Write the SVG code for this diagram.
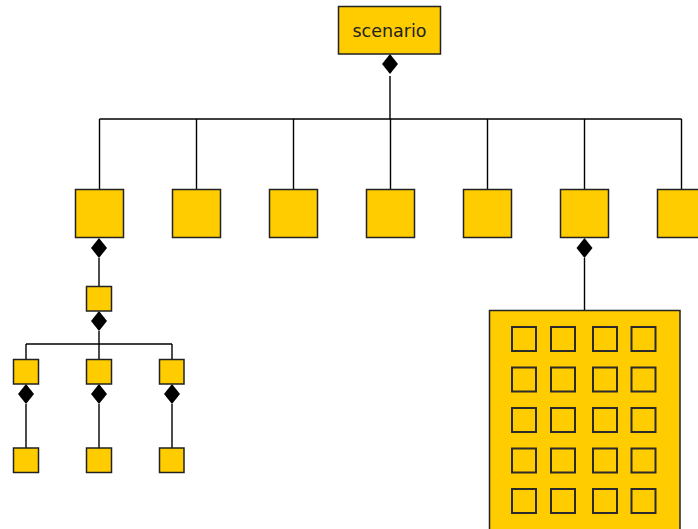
<svg xmlns="http://www.w3.org/2000/svg" width="698" height="529" viewBox="0 0 698 529">
<style>
.n{fill:#FFCC00;stroke:#222;stroke-width:1.5}
.c{fill:none;stroke:#000;stroke-width:1.4}
.d{fill:#000}
.i{fill:#FFCC00;stroke:#2a2a2a;stroke-width:2}
text{font-family:"DejaVu Sans","Liberation Sans",sans-serif;font-size:17.5px;fill:#222}
</style>
<rect width="698" height="529" fill="#fff"/>
<defs>
<path id="dia" d="M0,0 L8,10 L0,20 L-8,10 Z"/>
</defs>
<g id="connectors">
<path class="c" d="M390,76 V119 M99.5,119 H681.5 M99.5,119 V189 M196.5,119 V189 M293.5,119 V189 M390.5,119 V189 M487.5,119 V189 M584.5,119 V189 M681.5,119 V189"/>
<path class="c" d="M99,258 V286 M99,331 V344 M26,344 H172 M26,344 V359 M99,344 V359 M172,344 V359"/>
<path class="c" d="M26,404 V448 M99,404 V448 M172,404 V448"/>
<path class="c" d="M584.5,258 V310"/>
<use href="#dia" class="d" x="390" y="54"/>
<use href="#dia" class="d" x="99" y="238"/>
<use href="#dia" class="d" x="99" y="311"/>
<use href="#dia" class="d" x="26" y="384"/>
<use href="#dia" class="d" x="99" y="384"/>
<use href="#dia" class="d" x="172" y="384"/>
<use href="#dia" class="d" x="584.5" y="238"/>
</g>
<g id="scenario"><rect class="n" x="338.5" y="6.5" width="102" height="47.5"/><text x="389.5" y="37" text-anchor="middle">scenario</text></g>
<g id="n1"><rect class="n" x="75.5" y="189.5" width="48" height="48"/></g>
<g id="n2"><rect class="n" x="172.5" y="189.5" width="48" height="48"/></g>
<g id="n3"><rect class="n" x="269.5" y="189.5" width="48" height="48"/></g>
<g id="n4"><rect class="n" x="366.5" y="189.5" width="48" height="48"/></g>
<g id="n5"><rect class="n" x="463.5" y="189.5" width="48" height="48"/></g>
<g id="n6"><rect class="n" x="560.5" y="189.5" width="48" height="48"/></g>
<g id="n7"><rect class="n" x="657.5" y="189.5" width="48" height="48"/></g>
<g id="m1"><rect class="n" x="86.5" y="286.5" width="25" height="24.5"/></g>
<g id="a1"><rect class="n" x="13.5" y="359.5" width="25" height="24.5"/></g>
<g id="a2"><rect class="n" x="86.5" y="359.5" width="25" height="24.5"/></g>
<g id="a3"><rect class="n" x="159.5" y="359.5" width="24.5" height="24.5"/></g>
<g id="b1"><rect class="n" x="13.5" y="448" width="25" height="24.5"/></g>
<g id="b2"><rect class="n" x="86.5" y="448" width="25" height="24.5"/></g>
<g id="b3"><rect class="n" x="159.5" y="448" width="24.5" height="24.5"/></g>
<g id="grid">
<rect class="n" x="489.5" y="310.5" width="190.5" height="230"/>
<g>
<rect class="i" x="512" y="327" width="24" height="24"/><rect class="i" x="551" y="327" width="24" height="24"/><rect class="i" x="593" y="327" width="24" height="24"/><rect class="i" x="631.5" y="327" width="24" height="24"/>
<rect class="i" x="512" y="367.5" width="24" height="24"/><rect class="i" x="551" y="367.5" width="24" height="24"/><rect class="i" x="593" y="367.5" width="24" height="24"/><rect class="i" x="631.5" y="367.5" width="24" height="24"/>
<rect class="i" x="512" y="408" width="24" height="24"/><rect class="i" x="551" y="408" width="24" height="24"/><rect class="i" x="593" y="408" width="24" height="24"/><rect class="i" x="631.5" y="408" width="24" height="24"/>
<rect class="i" x="512" y="448.5" width="24" height="24"/><rect class="i" x="551" y="448.5" width="24" height="24"/><rect class="i" x="593" y="448.5" width="24" height="24"/><rect class="i" x="631.5" y="448.5" width="24" height="24"/>
<rect class="i" x="512" y="489" width="24" height="24"/><rect class="i" x="551" y="489" width="24" height="24"/><rect class="i" x="593" y="489" width="24" height="24"/><rect class="i" x="631.5" y="489" width="24" height="24"/>
</g>
</g>
</svg>
